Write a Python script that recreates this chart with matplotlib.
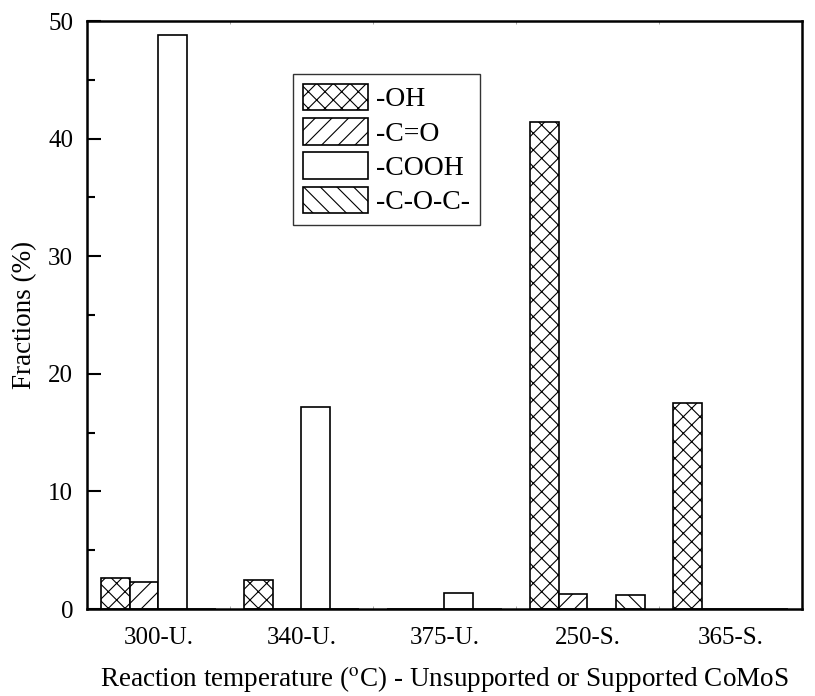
import matplotlib
matplotlib.use("Agg")
import matplotlib.pyplot as plt
import numpy as np
from matplotlib.ticker import MultipleLocator

plt.rcParams['font.family'] = ['Liberation Serif', 'DejaVu Serif']
plt.rcParams['hatch.linewidth'] = 0.8
plt.rcParams['mathtext.fontset'] = 'stix'

# Samples: reaction temperature and catalyst type
categories = ["300-U.", "340-U.", "375-U.", "250-S.", "365-S."]
series_names = ["-OH", "-C=O", "-COOH", "-C-O-C-"]
oh = [2.6, 2.5, 0.0, 41.4, 17.5]
co = [2.3, 0.0, 0.0, 1.3, 0.0]
cooh = [48.8, 17.2, 1.4, 0.0, 0.0]
coc = [0.0, 0.0, 0.0, 1.2, 0.0]
y_ticks = [0, 10, 20, 30, 40, 50]

series = [oh, co, cooh, coc]
hatches = ["xx", "//", "", "\\\\"]

fig = plt.figure(figsize=(8.15, 6.96), dpi=100)
ax = fig.add_axes([0.1067, 0.125, 0.8773, 0.8448])

x = np.arange(1, len(categories) + 1)
width = 0.2
offsets = [-1.5 * width, -0.5 * width, 0.5 * width, 1.5 * width]
for vals, name, h, off in zip(series, series_names, hatches, offsets):
    ax.bar(x + off, vals, width, label=name, facecolor="white",
           edgecolor="black", linewidth=1.2, hatch=h)

ax.set_xlim(0.5, len(categories) + 0.5)
ax.set_ylim(0, 50)
ax.set_yticks(y_ticks)
ax.yaxis.set_minor_locator(MultipleLocator(5))
ax.set_xticks(x)
ax.set_xticklabels(categories)
ax.xaxis.set_minor_locator(MultipleLocator(0.5))

ax.tick_params(axis='y', which='major', direction='in', length=10, width=1.5,
               labelsize=18, pad=10, right=False)
ax.tick_params(axis='y', which='minor', direction='in', length=6, width=1.5,
               right=False)
ax.tick_params(axis='x', which='major', direction='in', length=0,
               labelsize=18, pad=13)
ax.tick_params(axis='x', which='minor', direction='in', length=2, width=0.6,
               color='#999999', top=True, bottom=True)

for s in ax.spines.values():
    s.set_linewidth(1.8)

ax.set_ylabel("Fractions (%)", fontsize=19.5, labelpad=8)
ax.set_xlabel(r"Reaction temperature ($^{\rm o}$C) - Unsupported or Supported CoMoS",
              fontsize=19.5, labelpad=11)

leg = ax.legend(loc="upper left", bbox_to_anchor=(0.288, 0.91), fontsize=20,
                frameon=True, fancybox=False, edgecolor="black",
                handlelength=2.35, handleheight=1.1, handletextpad=0.3,
                labelspacing=0.2, borderpad=0.35, borderaxespad=0)
leg.get_frame().set_linewidth(1.0)

fig.savefig("out.png", dpi=100)
